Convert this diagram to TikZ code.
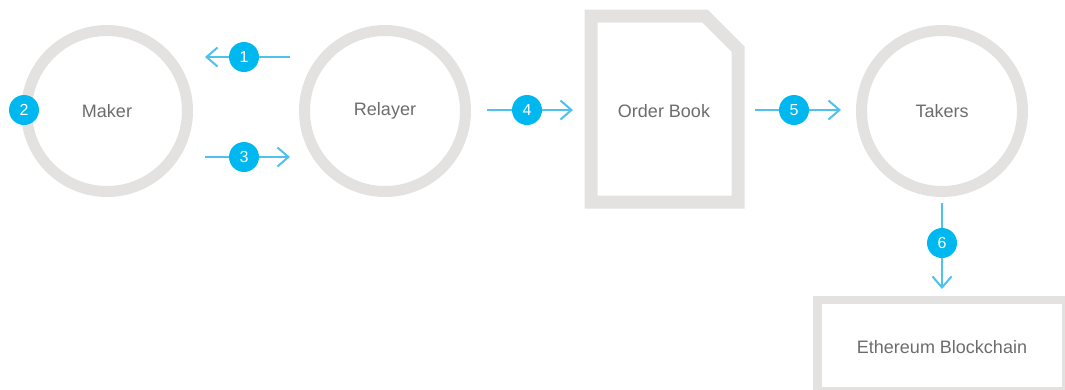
\documentclass[tikz,border=0pt]{standalone}
\usepackage{fontspec}
\setmainfont{Liberation Sans}
\usetikzlibrary{arrows.meta}
\definecolor{ring}{RGB}{227,226,225}
\definecolor{badge}{RGB}{0,184,240}
\definecolor{arrowc}{RGB}{80,192,236}
\definecolor{txt}{RGB}{108,108,108}
\tikzset{
  ringnode/.style={circle,draw=ring,line width=11pt,minimum size=161pt,inner sep=0pt,
    text=txt,font=\fontsize{18}{21}\selectfont},
  label text/.style={text=txt,font=\fontsize{18}{21}\selectfont,inner sep=0pt},
  badgenode/.style={circle,fill=badge,minimum size=30pt,inner sep=0pt,text=white,
    font=\fontsize{16}{19}\selectfont},
  flow/.style={draw=arrowc,line width=2pt,-{Straight Barb[length=11pt,width=19pt,line width=2pt]}}
}
\begin{document}
\begin{tikzpicture}[x=1pt,y=-1pt]
\path[use as bounding box] (0,0) rectangle (1065,389);
\clip (0,0) rectangle (1065,389);
% nodes
\node[ringnode] (maker) at (107,111) {Maker};
\node[ringnode] (relayer) at (385,111) {Relayer};
\node[ringnode] (takers) at (942,111) {Takers};
% order book document
\draw[ring,line width=13pt,line join=miter]
  (591,16) -- (705,16) -- (738,49) -- (738,202) -- (591,202) -- cycle;
\node[label text] (book) at (664,111) {Order Book};
% blockchain box
\draw[ring,line width=8.5pt] (817.5,300) rectangle (1066.5,391);
\node[label text] (chain) at (942,347) {Ethereum Blockchain};
% connector end points
\coordinate (a1s) at (290,57);  \coordinate (a1e) at (205,57);
\coordinate (a3s) at (205,157); \coordinate (a3e) at (290,157);
\coordinate (a4s) at (487,110); \coordinate (a4e) at (573,110);
\coordinate (a5s) at (755,110); \coordinate (a5e) at (841,110);
\coordinate (a6s) at (942,203); \coordinate (a6e) at (942,289);
% arrows
\draw[flow] (a1s) -- (a1e);
\draw[flow] (a3s) -- (a3e);
\draw[flow] (a4s) -- (a4e);
\draw[flow] (a5s) -- (a5e);
\draw[flow] (a6s) -- (a6e);
% badges
\node[badgenode] (b1) at (244,57) {1};
\node[badgenode] (b2) at (24,110) {2};
\node[badgenode] (b3) at (244,157) {3};
\node[badgenode] (b4) at (527,110) {4};
\node[badgenode] (b5) at (794,110) {5};
\node[badgenode] (b6) at (942,243) {6};
\end{tikzpicture}
\end{document}
